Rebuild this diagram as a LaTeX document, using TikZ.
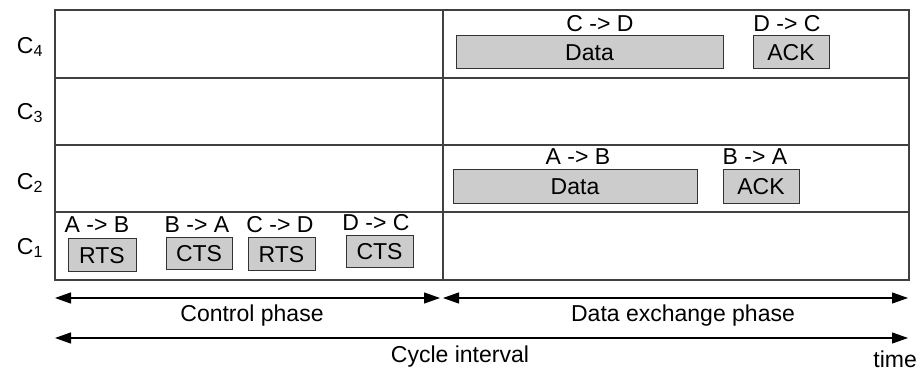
\documentclass[tikz,border=0pt]{standalone}
\usepackage{fontspec}
\setmainfont{Liberation Sans}
\usetikzlibrary{arrows.meta}
\begin{document}
\begin{tikzpicture}[x=1pt,y=-1pt,
  frame/.style={draw=black!75,line width=1.3pt},
  pkt/.style={draw=black!80,fill=black!20,line width=1pt,inner sep=0pt,font=\fontsize{23}{23}\selectfont},
  lbl/.style={font=\fontsize{23}{23}\selectfont,inner sep=0pt},
  span/.style={line width=1.2pt,{Triangle[length=16pt,width=11pt]}-{Triangle[length=16pt,width=11pt]}}]
\useasboundingbox (0,0) rectangle (923,371);
% frame
\draw[frame] (55,10) rectangle (909,280);
\draw[frame] (55,78) -- (909,78);
\draw[frame] (55,145) -- (909,145);
\draw[frame] (55,212) -- (909,212);
\draw[frame] (443,10) -- (443,280);
% row labels
\node[lbl] (c4) at (30,47) {C\textsubscript{4}};
\node[lbl] (c3) at (30,113) {C\textsubscript{3}};
\node[lbl] (c2) at (30,183) {C\textsubscript{2}};
\node[lbl] (c1) at (30,248) {C\textsubscript{1}};
% C4
\node[pkt,minimum width=267pt,minimum height=33pt] (data4) at (589.5,52.5) {Data};
\node[pkt,minimum width=76pt,minimum height=33pt] (ack4) at (791,52.5) {ACK};
\node[lbl] (l41) at (600,23.5) {C -> D};
\node[lbl] (l42) at (787,23.5) {D -> C};
% C2
\node[pkt,minimum width=244pt,minimum height=34pt] (data2) at (575,187) {Data};
\node[pkt,minimum width=76pt,minimum height=34pt] (ack2) at (761,187) {ACK};
\node[lbl] (l21) at (578,157) {A -> B};
\node[lbl] (l22) at (755,157) {B -> A};
% C1
\node[pkt,minimum width=68pt,minimum height=33pt] (rts1) at (102,255.5) {RTS};
\node[pkt,minimum width=66pt,minimum height=32pt] (cts1) at (199,254) {CTS};
\node[pkt,minimum width=67pt,minimum height=33pt] (rts2) at (281.5,254.5) {RTS};
\node[pkt,minimum width=67pt,minimum height=32pt] (cts2) at (379.5,252) {CTS};
\node[lbl] (l11) at (97,225) {A -> B};
\node[lbl] (l12) at (197,225) {B -> A};
\node[lbl] (l13) at (280,225) {C -> D};
\node[lbl] (l14) at (376,223) {D -> C};
% arrows
\coordinate (cpL) at (55,298);
\coordinate (cpR) at (440,298);
\coordinate (dpL) at (443,298);
\coordinate (dpR) at (908,298);
\coordinate (ciL) at (55,338);
\coordinate (ciR) at (908,338);
\draw[span] (cpL) -- (cpR);
\draw[span] (dpL) -- (dpR);
\draw[span] (ciL) -- (ciR);
\node[lbl] (cp) at (252,316) {Control phase};
\node[lbl] (dp) at (683,316) {Data exchange phase};
\node[lbl] (ci) at (460,357) {Cycle interval};
\node[lbl,anchor=east] (tm) at (917,359) {time};
\end{tikzpicture}
\end{document}
